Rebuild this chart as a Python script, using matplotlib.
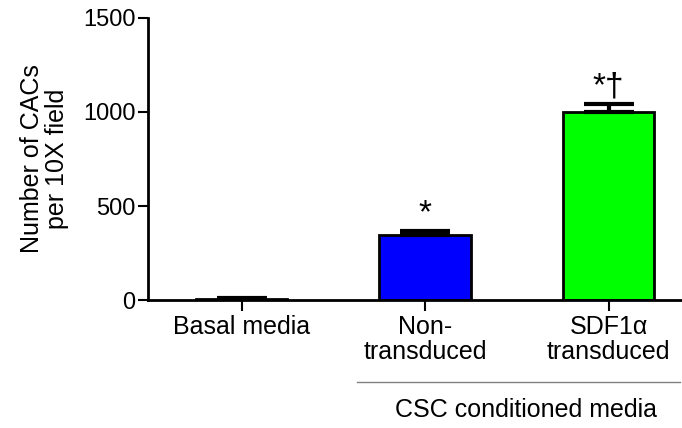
import numpy as np
import matplotlib.pyplot as plt

plt.rcParams['font.family'] = ['Liberation Sans', 'DejaVu Sans']

# Dữ liệu
categories = ['Basal media', 'Non-\ntransduced', 'SDF1\u03b1\ntransduced']
values = [5, 345, 1000]
errors = [6, 22, 40]
colors = ['white', '#0000ff', '#00ff00']
marks = ['', '*', '*\u2020']

fig = plt.figure(figsize=(6.82, 4.28), dpi=100)
ax = fig.add_axes([0.217, 0.299, 0.783, 0.659])

x = np.arange(len(values))
ax.bar(x, values, width=0.5, color=colors, edgecolor='black', linewidth=2, zorder=2)
ax.errorbar(x, values, yerr=[np.zeros(3), errors], fmt='none', ecolor='black',
            elinewidth=3, capsize=18, capthick=3, zorder=3)

for xi, v, e, m in zip(x, values, errors, marks):
    if m:
        ax.text(xi, v + e + 10, m, ha='center', va='bottom', fontsize=24)

ax.set_xlim(-0.51, 2.4)
ax.set_ylim(0, 1500)
ax.set_yticks([0, 500, 1000, 1500])
ax.set_xticks(x)
ax.set_xticklabels(categories, fontsize=18, linespacing=1.05)
ax.tick_params(axis='y', labelsize=17, width=1.5, length=7, pad=2)
ax.tick_params(axis='x', width=1.5, length=8, pad=3)
for s in ['top', 'right']:
    ax.spines[s].set_visible(False)
for s in ['left', 'bottom']:
    ax.spines[s].set_linewidth(2)
ax.set_ylabel('Number of CACs\nper 10X field', fontsize=18, labelpad=10, linespacing=1.05)

# Nhóm CSC conditioned media
fig.add_artist(plt.Line2D([357/682, 680/682], [1 - 382/428, 1 - 382/428],
                          color='#808080', linewidth=1))
fig.text(526/682, 1 - 410/428, 'CSC conditioned media', ha='center', va='center', fontsize=18)

plt.savefig('out.png', dpi=100)
